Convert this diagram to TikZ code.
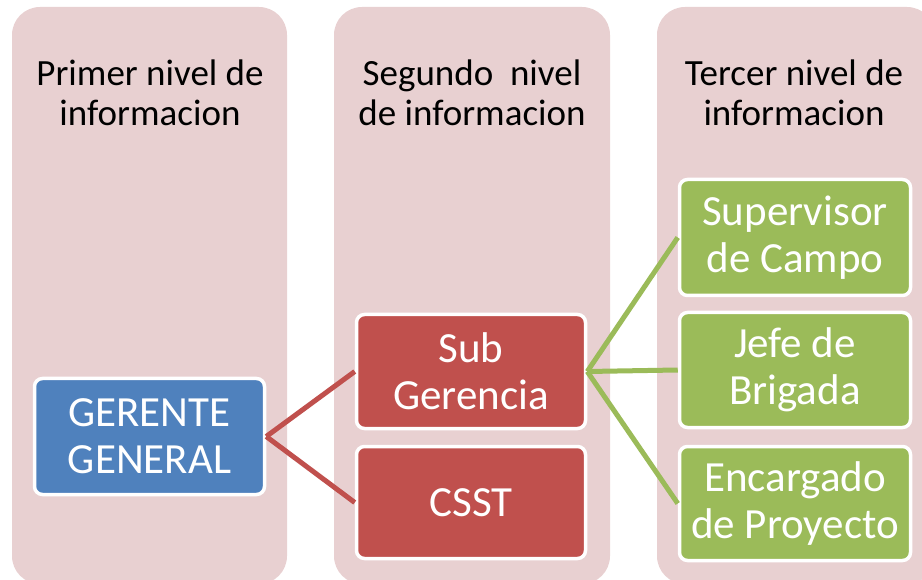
\documentclass[tikz,border=0pt]{standalone}
\usepackage{fontspec}
\setmainfont{Carlito}
\definecolor{colbg}{HTML}{E8D0D1}
\definecolor{bluebox}{HTML}{4F81BD}
\definecolor{redbox}{HTML}{C0504D}
\definecolor{greenbox}{HTML}{9BBB59}
\tikzset{
  column/.style={fill=colbg, rounded corners=28pt},
  header/.style={align=center, text=black, font=\fontsize{37}{40}\selectfont, inner sep=0pt},
  unit/.style={draw=white, line width=3.5pt, rounded corners=8pt, text=white, align=center,
    font=\fontsize{43}{47}\selectfont, inner sep=0pt, minimum width=#1},
  unit/.default=230pt,
  redlink/.style={draw=redbox, line width=5pt},
  greenlink/.style={draw=greenbox, line width=5pt}
}
\begin{document}
\begin{tikzpicture}[x=1pt,y=-1pt]
\useasboundingbox (0,0) rectangle (922,580);
\clip (0,0) rectangle (922,580);
% columns
\fill[column] (12,7) rectangle (287,584);
\fill[column] (334,7) rectangle (610,584);
\fill[column] (657,7) rectangle (935,584);
% headers
\node[header] (h1) at (150,93) {Primer nivel de\\informacion};
\node[header] (h2) at (472,93) {Segundo\ \ nivel\\de informacion};
\node[header] (h3) at (794,93) {Tercer nivel de\\informacion};
% boxes
\node[unit=230pt, fill=bluebox, minimum height=116pt] (gg) at (149.5,436.5) {GERENTE\\GENERAL};
\node[unit=229pt, fill=redbox, minimum height=114pt] (sub) at (471,371.5) {Sub\\Gerencia};
\node[unit=229pt, fill=redbox, minimum height=112pt] (csst) at (471,502.5) {CSST};
\node[unit=231pt, fill=greenbox, minimum height=116pt] (sup) at (795,237.5) {Supervisor\\de Campo};
\node[unit=231pt, fill=greenbox, minimum height=115pt] (jefe) at (795,370) {Jefe de\\Brigada};
\node[unit=231pt, fill=greenbox, minimum height=114pt] (enc) at (795,503.5) {Encargado\\de Proyecto};
% links
\draw[redlink] (gg.east) -- (sub.west);
\draw[redlink] (gg.east) -- (csst.west);
\draw[greenlink] (sub.east) -- (sup.west);
\draw[greenlink] (sub.east) -- (jefe.west);
\draw[greenlink] (sub.east) -- (enc.west);
\end{tikzpicture}
\end{document}
